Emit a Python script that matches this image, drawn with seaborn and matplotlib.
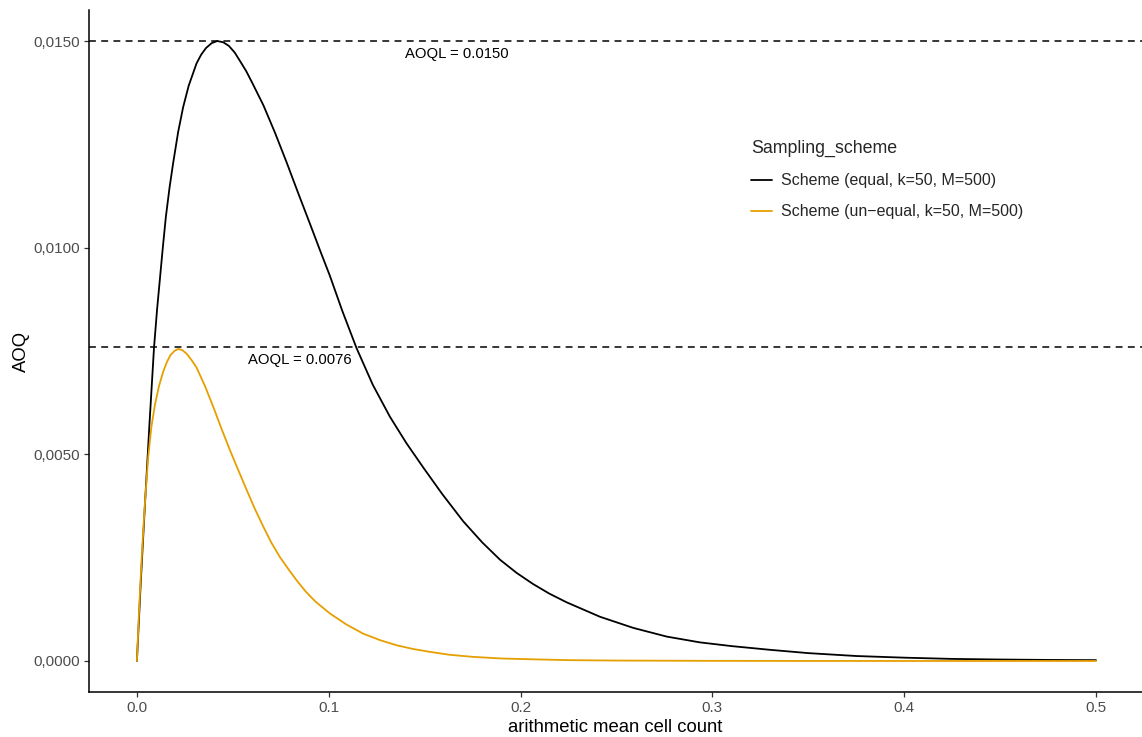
import numpy as np
import pandas as pd
import matplotlib
matplotlib.use("Agg")
import matplotlib.pyplot as plt
from matplotlib.ticker import FuncFormatter, FixedLocator
import seaborn as sns

# AOQ curves for the two sampling schemes (mean cell count vs. AOQ)
equal_x = [0.0, 0.002, 0.0042, 0.0065, 0.0089, 0.0105, 0.012, 0.0135, 0.0151,
           0.017, 0.0189, 0.0215, 0.0241, 0.027, 0.0311, 0.0335, 0.036, 0.039,
           0.0419, 0.045, 0.048, 0.051, 0.0537, 0.057, 0.060, 0.063, 0.0659,
           0.072, 0.078, 0.084, 0.0902, 0.096, 0.1006, 0.107, 0.1145, 0.123,
           0.1319, 0.1405, 0.1493, 0.159, 0.1701, 0.180, 0.1893, 0.198, 0.2066,
           0.215, 0.224, 0.2414, 0.2588, 0.2762, 0.2935, 0.31, 0.33, 0.35,
           0.375, 0.40, 0.425, 0.45, 0.475, 0.5]
equal_aoq = [0.0, 0.0019, 0.0038, 0.0057, 0.00757, 0.0085, 0.00925, 0.0100,
             0.01075, 0.01145, 0.01205, 0.01280, 0.01340, 0.01392, 0.01446,
             0.01467, 0.01483, 0.01495, 0.01500, 0.01497, 0.01488, 0.01472,
             0.01452, 0.01427, 0.01400, 0.01372, 0.01345, 0.01278, 0.01207,
             0.01133, 0.01058, 0.00987, 0.00932, 0.00848, 0.00757, 0.00668,
             0.00591, 0.00527, 0.00468, 0.00405, 0.00338, 0.00287, 0.00245,
             0.00213, 0.00186, 0.00163, 0.00142, 0.00107, 0.00080, 0.00059,
             0.00045, 0.00036, 0.00027, 0.00019, 0.00012, 0.00008, 0.00005,
             0.000035, 0.000025, 0.00002]

unequal_x = [0.0, 0.0012, 0.0025, 0.004, 0.0059, 0.0075, 0.0094, 0.0115, 0.0137,
             0.0157, 0.0175, 0.0195, 0.0215, 0.0237, 0.026, 0.0285, 0.0311,
             0.0355, 0.0398, 0.044, 0.0485, 0.053, 0.0572, 0.0615, 0.0659, 0.070,
             0.0746, 0.079, 0.0833, 0.088, 0.093, 0.1006, 0.1093, 0.118, 0.127,
             0.1354, 0.144, 0.1528, 0.163, 0.175, 0.19, 0.2066, 0.225, 0.25,
             0.3, 0.35, 0.4, 0.5]
unequal_aoq = [0.0, 0.0013, 0.0025, 0.0037, 0.00494, 0.00565, 0.00620, 0.00665,
               0.00700, 0.00724, 0.00740, 0.00750, 0.00755, 0.00752, 0.00743,
               0.00728, 0.00710, 0.00665, 0.00615, 0.00563, 0.00510, 0.00460,
               0.00414, 0.00368, 0.00325, 0.00287, 0.00251, 0.00222, 0.00195,
               0.00168, 0.00144, 0.00115, 0.00088, 0.00066, 0.00050, 0.00038,
               0.00029, 0.00022, 0.00015, 0.00010, 0.00006, 0.00004, 0.00002,
               0.00001, 0.000003, 0.000001, 0.0, 0.0]

scheme_labels = ["Scheme (equal, k=50, M=500)", "Scheme (un\u2212equal, k=50, M=500)"]
scheme_colors = ["#000000", "#E69F00"]

aoql_values = [0.0150, 0.0076]
aoql_text_x = [0.167, 0.085]

x_ticks = [0.0, 0.1, 0.2, 0.3, 0.4, 0.5]
y_ticks = [0.0, 0.005, 0.010, 0.015]

df = pd.concat([
    pd.DataFrame({"x": equal_x, "AOQ": equal_aoq, "Sampling_scheme": scheme_labels[0]}),
    pd.DataFrame({"x": unequal_x, "AOQ": unequal_aoq, "Sampling_scheme": scheme_labels[1]}),
], ignore_index=True)

sns.set_style("white")
plt.rcParams["font.family"] = ["Liberation Sans", "DejaVu Sans"]

fig = plt.figure(figsize=(11.42, 7.37), dpi=100)
ax = fig.add_axes([0.0779, 0.0611, 0.9221, 0.9253])

sns.lineplot(data=df, x="x", y="AOQ", hue="Sampling_scheme",
             palette=dict(zip(scheme_labels, scheme_colors)),
             hue_order=scheme_labels, errorbar=None, linewidth=1.3, ax=ax)

for val, tx in zip(aoql_values, aoql_text_x):
    ax.axhline(val, color="black", linewidth=1.1, linestyle=(0, (4.5, 3.5)), zorder=1)
    ax.text(tx, val - 0.00014, f"AOQL = {val:.4f}", ha="center", va="top",
            fontsize=10.7, color="black")

ax.set_xlim(-0.025, 0.524)
ax.set_ylim(-0.00075, 0.01575)
ax.xaxis.set_major_locator(FixedLocator(x_ticks))
ax.yaxis.set_major_locator(FixedLocator(y_ticks))
ax.xaxis.set_major_formatter(FuncFormatter(lambda v, p: f"{v:.1f}"))
ax.yaxis.set_major_formatter(FuncFormatter(lambda v, p: f"{v:.4f}".replace(".", ",")))

for side in ["top", "right"]:
    ax.spines[side].set_visible(False)
for side in ["left", "bottom"]:
    ax.spines[side].set_color("black")
    ax.spines[side].set_linewidth(1.1)

ax.tick_params(axis="both", which="major", length=3.6, width=0.9, color="#333333",
               labelsize=11, labelcolor="#4D4D4D", pad=3, direction="out",
               bottom=True, left=True)
ax.set_xlabel("arithmetic mean cell count", fontsize=13.3, color="black", labelpad=3)
ax.set_ylabel("AOQ", fontsize=13.3, color="black", labelpad=2)

handles, labels = ax.get_legend_handles_labels()
leg = ax.legend(handles, labels, title="Sampling_scheme", loc="upper left",
                bbox_to_anchor=(751 / 1142, 1 - 140 / 737), bbox_transform=fig.transFigure,
                frameon=False, fontsize=11.5, title_fontsize=12.8,
                handlelength=1.3, handletextpad=0.55, labelspacing=1.0,
                borderpad=0, borderaxespad=0, alignment="left")
for line in leg.get_lines():
    line.set_linewidth(1.3)

fig.savefig("out.png", dpi=100, facecolor="white")
